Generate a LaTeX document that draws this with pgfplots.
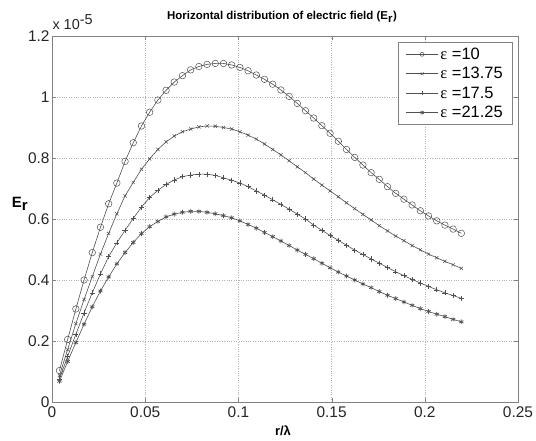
\documentclass[border=0pt]{standalone}
\usepackage{pgfplots}
\usepackage{pgfplotstable}
\pgfplotsset{compat=1.18}
\usepackage{fontspec}
\setmainfont{Liberation Sans}
\newfontfamily\epsfont{Liberation Serif}
\pgfplotstableread{
x a b c d
0.0040 0.103 0.087 0.076 0.068
0.0084 0.205 0.172 0.150 0.133
0.0128 0.305 0.257 0.222 0.195
0.0172 0.400 0.336 0.292 0.255
0.0216 0.490 0.411 0.358 0.312
0.0260 0.573 0.485 0.420 0.364
0.0304 0.650 0.553 0.477 0.410
0.0348 0.718 0.617 0.522 0.453
0.0392 0.789 0.676 0.563 0.490
0.0436 0.850 0.720 0.602 0.523
0.0480 0.905 0.763 0.639 0.552
0.0524 0.950 0.797 0.671 0.575
0.0568 0.990 0.828 0.694 0.592
0.0612 1.022 0.853 0.713 0.607
0.0656 1.049 0.872 0.728 0.616
0.0700 1.070 0.886 0.739 0.622
0.0744 1.089 0.895 0.744 0.625
0.0788 1.100 0.902 0.747 0.625
0.0832 1.107 0.905 0.747 0.622
0.0876 1.110 0.904 0.743 0.617
0.0920 1.110 0.900 0.735 0.611
0.0964 1.105 0.895 0.727 0.604
0.1008 1.097 0.886 0.718 0.594
0.1052 1.086 0.875 0.706 0.582
0.1096 1.072 0.862 0.692 0.570
0.1140 1.058 0.846 0.678 0.556
0.1184 1.042 0.828 0.663 0.542
0.1228 1.023 0.810 0.648 0.528
0.1272 1.002 0.791 0.632 0.513
0.1316 0.979 0.771 0.616 0.498
0.1360 0.955 0.752 0.600 0.484
0.1404 0.931 0.731 0.580 0.470
0.1448 0.906 0.711 0.563 0.455
0.1492 0.881 0.692 0.546 0.440
0.1536 0.855 0.673 0.530 0.426
0.1580 0.828 0.653 0.514 0.413
0.1624 0.802 0.634 0.498 0.400
0.1668 0.777 0.615 0.484 0.387
0.1712 0.752 0.597 0.469 0.375
0.1756 0.730 0.578 0.455 0.362
0.1800 0.706 0.561 0.441 0.350
0.1844 0.684 0.544 0.427 0.339
0.1888 0.665 0.529 0.414 0.328
0.1932 0.646 0.513 0.402 0.317
0.1976 0.627 0.499 0.390 0.306
0.2020 0.610 0.485 0.379 0.297
0.2064 0.594 0.473 0.368 0.288
0.2108 0.580 0.461 0.358 0.280
0.2152 0.567 0.450 0.349 0.271
0.2196 0.553 0.438 0.340 0.263
}\datatable
\definecolor{lc}{RGB}{80,80,80}
\definecolor{ax}{RGB}{130,130,130}
\begin{document}
\begin{tikzpicture}
\path[use as bounding box] (-52bp,-39bp) rectangle (484bp,402bp);
\begin{axis}[
  at={(0,0)}, anchor=south west,
  scale only axis, width=466bp, height=366bp,
  xmin=0, xmax=0.25, ymin=0, ymax=1.2,
  xtick={0,0.05,0.1,0.15,0.2,0.25},
  ytick={0,0.2,0.4,0.6,0.8,1,1.2},
  xticklabels={0,0.05,0.1,0.15,0.2,0.25},
  yticklabels={0,0.2,0.4,0.6,0.8,1,1.2},
  grid=major,
  major grid style={dotted, color=black!30, line width=0.6pt},
  axis line style={color=ax, line width=0.9pt},
  tick style={color=ax},
  tick align=inside,
  major tick length=4bp,
  tick label style={font=\fontsize{15.5}{17}\selectfont, text=black!85},
  xticklabel style={yshift=-1bp},
  yticklabel style={xshift=1bp},
  every axis plot/.append style={color=lc, line width=0.6pt},
  legend style={at={(1,1)}, anchor=north east, xshift=-5bp, yshift=-6bp,
    draw=ax, line width=0.7pt, font=\fontsize{16.5}{18}\selectfont, inner xsep=8bp, inner ysep=3.5bp,
    row sep=2.5bp, cells={anchor=west},
    /tikz/every even column/.append style={column sep=3bp}},
  legend image code/.code={\draw[mark repeat=2, mark phase=2, #1, mark size=2pt] plot coordinates {(0bp,0bp) (16bp,0bp) (32bp,0bp)};},
]
\addplot[mark=o, mark size=3.3pt, mark options={line width=0.5pt}] table[x=x,y=a] {\datatable};
\addlegendentry{{\epsfont ε} =10}
\addplot[mark=x, mark size=2.3pt, mark options={line width=0.5pt}] table[x=x,y=b] {\datatable};
\addlegendentry{{\epsfont ε} =13.75}
\addplot[mark=+, mark size=2.6pt, mark options={line width=0.5pt}] table[x=x,y=c] {\datatable};
\addlegendentry{{\epsfont ε} =17.5}
\addplot[mark=asterisk, mark size=2.4pt, mark options={line width=0.7pt}] table[x=x,y=d] {\datatable};
\addlegendentry{{\epsfont ε} =21.25}
\end{axis}
\node[anchor=west, font=\fontsize{14.5}{16}\selectfont, text=black!85] at (-3bp,380bp) {x 10$^{\textrm{-5}}$};
\node[font=\bfseries\fontsize{11.5}{13}\selectfont] at (230bp,385bp) {Horizontal distribution of electric field (E$_{\textbf{r}}$)};
\node[font=\bfseries\fontsize{15}{17}\selectfont] at (-32bp,198bp) {E$_{\textbf{r}}$};
\node[font=\bfseries\fontsize{13}{15}\selectfont] at (231bp,-29bp) {r/λ};
\end{tikzpicture}
\end{document}
